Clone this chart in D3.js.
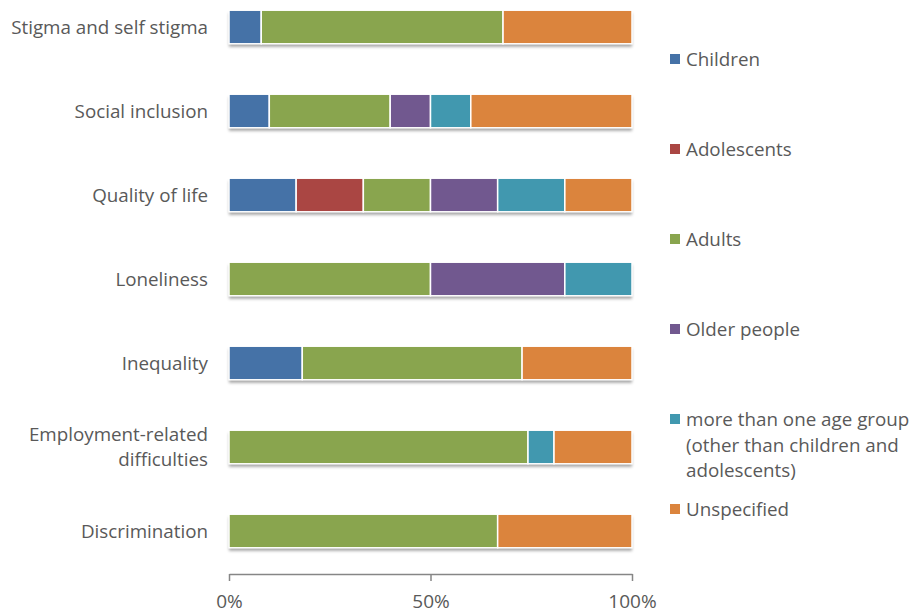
<!DOCTYPE html>
<html>
<head>
<meta charset="utf-8">
<script src="https://cdn.jsdelivr.net/npm/d3@7"></script>
<style>
  body { margin: 0; background: #fff; }
  text { font-family: "Open Sans", sans-serif; fill: #595959; }
</style>
</head>
<body>
<script>
// Categories, top to bottom
const categories = [
  'Stigma and self stigma',
  'Social inclusion',
  'Quality of life',
  'Loneliness',
  'Inequality',
  'Employment-related difficulties',
  'Discrimination'
]

const groups = ['Children', 'Adolescents', 'Adults', 'Older people',
  'more than one age group (other than children and adolescents)', 'Unspecified']

// counts per category, one array per age group
const children    = [2, 1, 1, 0, 2, 0, 0]
const adolescents = [0, 0, 1, 0, 0, 0, 0]
const adults      = [15, 3, 1, 3, 6, 23, 2]
const olderPeople = [0, 1, 1, 2, 0, 0, 0]
const moreThanOne = [0, 1, 1, 1, 0, 2, 0]
const unspecified = [8, 4, 1, 0, 3, 6, 1]

const ticks = [0, 0.5, 1]

const colors = ['#4572A7', '#AA4643', '#89A54E', '#71588F', '#4198AF', '#DB843D']

const series = [children, adolescents, adults, olderPeople, moreThanOne, unspecified]

const width = 909
const height = 613
const left = 229
const right = 632

// build rows
const rows = categories.map((c, i) => {
  const row = { category: c }
  groups.forEach((g, j) => { row[g] = series[j][i] })
  return row
})

const stack = d3.stack().keys(groups).offset(d3.stackOffsetExpand)(rows)

const svg = d3.select('body').append('svg')
  .attr('width', width)
  .attr('height', height)

const defs = svg.append('defs')
const shadow = defs.append('filter')
  .attr('id', 'shadow')
  .attr('x', '-5%').attr('y', '-20%')
  .attr('width', '110%').attr('height', '160%')
shadow.append('feDropShadow')
  .attr('dx', 0).attr('dy', 3)
  .attr('stdDeviation', 1.5)
  .attr('flood-color', '#000')
  .attr('flood-opacity', 0.35)

const xScale = d3.scaleLinear().domain([0, 1]).range([left, right])
const yScale = d3.scaleBand()
  .domain(categories)
  .range([-15, 573])
  .paddingInner(0.6)
  .paddingOuter(0.3)

// shadows under each full bar
svg.append('g').selectAll('rect')
  .data(categories)
  .enter()
  .append('rect')
  .attr('x', xScale(0))
  .attr('y', d => yScale(d))
  .attr('width', xScale(1) - xScale(0))
  .attr('height', yScale.bandwidth())
  .attr('fill', '#fff')
  .attr('filter', 'url(#shadow)')

// Bars
const layers = svg.append('g')
  .selectAll('g')
  .data(stack)
  .enter()
  .append('g')
  .attr('fill', (d, i) => colors[i])

layers.selectAll('rect')
  .data(d => d.filter(s => s[1] - s[0] > 0))
  .enter()
  .append('rect')
  .attr('x', d => xScale(d[0]))
  .attr('y', d => yScale(d.data.category))
  .attr('width', d => xScale(d[1]) - xScale(d[0]))
  .attr('height', yScale.bandwidth())
  .attr('stroke', '#fff')
  .attr('stroke-width', 1.5)

// X axis
const xAxis = d3.axisBottom(xScale)
  .tickValues(ticks)
  .tickFormat(d3.format('.0%'))
  .tickSize(7)
  .tickSizeOuter(0)

const gx = svg.append('g')
  .attr('transform', 'translate(0, 574)')
  .call(xAxis)
gx.select('.domain').attr('stroke', '#868686').attr('stroke-width', 1.5)
gx.selectAll('.tick line').attr('stroke', '#868686').attr('stroke-width', 1.5)
gx.selectAll('.tick text')
  .attr('y', 21)
  .attr('dy', '0.71em')
  .style('font-size', '19px')
  .style('font-family', '"Open Sans", sans-serif')
  .attr('fill', '#595959')

// Category labels
const labelLines = {
  'Employment-related difficulties': ['Employment-related', 'difficulties']
}
const labels = svg.append('g')
  .selectAll('text')
  .data(categories)
  .enter()
  .append('text')
  .attr('text-anchor', 'end')
  .style('font-size', '18.8px')
  .attr('y', d => yScale(d) + yScale.bandwidth() / 2)

labels.each(function (d) {
  const lines = labelLines[d] || [d]
  const t = d3.select(this)
  lines.forEach((l, i) => {
    t.append('tspan')
      .attr('x', 208)
      .attr('dy', i === 0 ? `${0.35 - (lines.length - 1) * 0.65}em` : '1.3em')
      .text(l)
  })
})

// Legend
const legendLines = [
  ['Children'],
  ['Adolescents'],
  ['Adults'],
  ['Older people'],
  ['more than one age group', '(other than children and', 'adolescents)'],
  ['Unspecified']
]
const legendY = [59, 149, 239, 329, 419, 509]

const legend = svg.append('g')
legend.selectAll('rect')
  .data(groups)
  .enter()
  .append('rect')
  .attr('x', 670)
  .attr('y', (d, i) => legendY[i] - 5)
  .attr('width', 10)
  .attr('height', 10)
  .attr('fill', (d, i) => colors[i])

legend.selectAll('text')
  .data(groups)
  .enter()
  .append('text')
  .style('font-size', '18.8px')
  .attr('y', (d, i) => legendY[i])
  .each(function (d, i) {
    const t = d3.select(this)
    legendLines[i].forEach((l, k) => {
      t.append('tspan')
        .attr('x', 686)
        .attr('dy', k === 0 ? '0.35em' : '1.38em')
        .text(l)
    })
  })
</script>
</body>
</html>
